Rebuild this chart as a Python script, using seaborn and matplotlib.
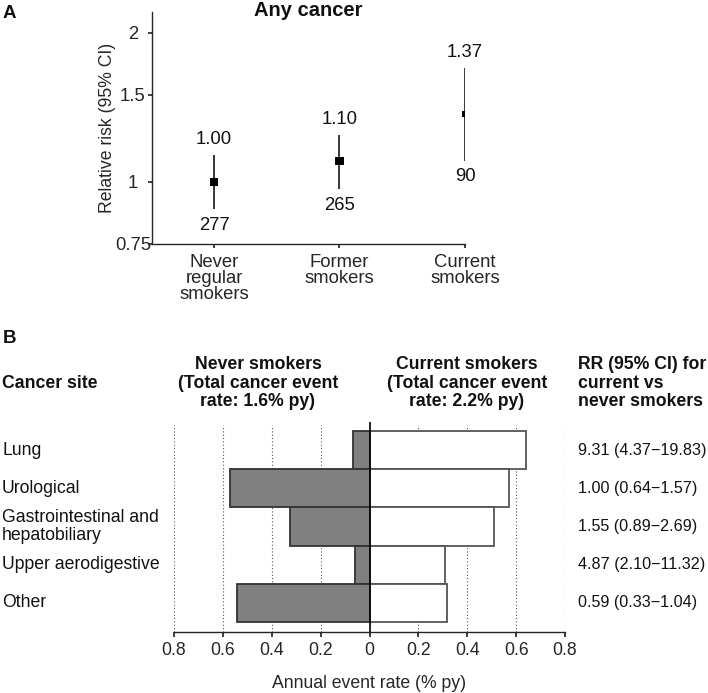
import numpy as np
import pandas as pd
import matplotlib
matplotlib.use("Agg")
import matplotlib.pyplot as plt
import matplotlib.transforms as mtransforms
from matplotlib.ticker import NullLocator
import seaborn as sns

# ---------------- Datos panel A (cualquier cancer)
grupos = ["Never\nregular\nsmokers", "Former\nsmokers", "Current\nsmokers"]
rr = [1.00, 1.10, 1.37]
ic_bajo = [0.882, 0.967, 1.104]
ic_alto = [1.134, 1.244, 1.70]
rr_txt = ["1.00", "1.10", "1.37"]
eventos = [277, 265, 90]

# ---------------- Datos panel B (por sitio)
sitios = ["Lung", "Urological", "Gastrointestinal and\nhepatobiliary",
          "Upper aerodigestive", "Other"]
tasa_nunca = [0.068, 0.572, 0.327, 0.061, 0.542]
tasa_actual = [0.641, 0.572, 0.510, 0.308, 0.319]
rr_sitio = ["9.31 (4.37\u221219.83)", "1.00 (0.64\u22121.57)", "1.55 (0.89\u22122.69)",
            "4.87 (2.10\u221211.32)", "0.59 (0.33\u22121.04)"]
ticks_b = [-0.8, -0.6, -0.4, -0.2, 0, 0.2, 0.4, 0.6, 0.8]
ticks_b_txt = ["0.8", "0.6", "0.4", "0.2", "0", "0.2", "0.4", "0.6", "0.8"]

# estilo
sns.set_theme(style="ticks")
plt.rcParams["font.family"] = ["Liberation Sans", "DejaVu Sans"]
plt.rcParams["axes.linewidth"] = 1.0
plt.rcParams["text.color"] = "#111111"
fuente_a = ["Liberation Sans Narrow", "Liberation Sans", "DejaVu Sans"]
tam_marcador = [34, 34, 20]
fs_a = 13.3
fs_b = 12.7

W, H = 708, 693
fig = plt.figure(figsize=(W / 100, H / 100), dpi=100)

# ----------------------------------------------------------
# PANEL A
axA = fig.add_axes([152 / W, 1 - 244 / H, 313 / W, 232 / H])
pos = np.arange(len(grupos))
axA.vlines(pos, ic_bajo, ic_alto, color="black", lw=1.1)
df_a = pd.DataFrame({"x": pos, "rr": rr, "grupo": grupos})
sns.scatterplot(data=df_a, x="x", y="rr", size="grupo",
                sizes=dict(zip(grupos, tam_marcador)), marker="s",
                color="black", edgecolor="black", linewidth=0,
                legend=False, ax=axA, zorder=3)

for i in range(len(grupos)):
    axA.annotate(rr_txt[i], (pos[i], ic_alto[i]), xytext=(0, 11),
                 textcoords="offset points", ha="center", va="center",
                 fontsize=fs_a, family=fuente_a)
    axA.annotate(str(eventos[i]), (pos[i], ic_bajo[i]), xytext=(0, -11.5),
                 textcoords="offset points", ha="center", va="center",
                 fontsize=fs_a, family=fuente_a)

axA.set_yscale("log")
axA.set_ylim(0.75, 2.2)
axA.set_xlim(-0.494, 2.0)
axA.set_yticks([0.75, 1, 1.5, 2])
axA.set_yticklabels(["0.75", "1", "1.5", "2"], family=fuente_a)
axA.yaxis.set_minor_locator(NullLocator())
axA.set_xticks(pos)
axA.set_xticklabels(grupos, family=fuente_a, linespacing=0.95)
axA.tick_params(axis="y", length=3, pad=10.7, labelsize=fs_a)
axA.tick_params(axis="x", length=3, pad=4, labelsize=fs_a)
for lbl in axA.get_yticklabels():
    lbl.set_ha("center")
axA.set_xlabel("")
axA.set_ylabel("Relative risk (95% CI)", fontsize=12.7, labelpad=-1)
sns.despine(ax=axA)

fig.text(308 / W, 1 - 10 / H, "Any cancer", ha="center", va="center",
         fontsize=14.5, fontweight="bold", family=fuente_a)
fig.text(3 / W, 1 - 14 / H, "A", ha="left", va="center", fontsize=13.5, fontweight="bold")

# ----------------------------------------------------------
# PANEL B
axB = fig.add_axes([174 / W, 1 - 632 / H, 391 / W, 210 / H])
df_b = pd.DataFrame({"sitio": sitios,
                     "nunca": -np.array(tasa_nunca),
                     "actual": tasa_actual})

for v in ticks_b:
    if v != 0:
        axB.axvline(v, ymax=0.985, ls=(0, (1, 2)), color="#555555", lw=0.8, zorder=0)

sns.barplot(data=df_b, x="nunca", y="sitio", orient="h", width=1.0,
            color="#808080", saturation=1, edgecolor="#333333", linewidth=1.3,
            errorbar=None, ax=axB, zorder=2)
sns.barplot(data=df_b, x="actual", y="sitio", orient="h", width=1.0,
            color="white", saturation=1, edgecolor="#555555", linewidth=1.3,
            errorbar=None, ax=axB, zorder=2)
axB.axvline(0, color="black", lw=1.2, zorder=4)

axB.set_xlim(-0.8, 0.8)
axB.set_ylim(4.764, -0.733)
axB.set_yticks([])
axB.set_ylabel("")
axB.set_xticks(ticks_b)
axB.set_xticklabels(ticks_b_txt)
axB.tick_params(axis="x", length=3.5, pad=4, labelsize=fs_b)
axB.set_xlabel("Annual event rate (% py)", fontsize=fs_b, labelpad=11)
for lado in ["left", "top", "right"]:
    axB.spines[lado].set_visible(False)

trans = mtransforms.blended_transform_factory(fig.transFigure, axB.transData)
for i in range(len(sitios)):
    axB.text(2 / W, i, sitios[i], transform=trans, ha="left", va="center",
             fontsize=fs_b, linespacing=1.05)
    axB.text(578 / W, i, rr_sitio[i], transform=trans, ha="left", va="center",
             fontsize=11.6)

fig.text(3 / W, 1 - 338 / H, "B", ha="left", va="center", fontsize=13.5, fontweight="bold")
fig.text(2 / W, 1 - 383 / H, "Cancer site", ha="left", va="center",
         fontsize=fs_b, fontweight="bold")
fig.text(258 / W, 1 - 383 / H, "Never smokers\n(Total cancer event\nrate: 1.6% py)",
         ha="center", va="center", ma="center", fontsize=fs_b, fontweight="bold",
         linespacing=1.1)
fig.text(467 / W, 1 - 383 / H, "Current smokers\n(Total cancer event\nrate: 2.2% py)",
         ha="center", va="center", ma="center", fontsize=fs_b, fontweight="bold",
         linespacing=1.1)
fig.text(578 / W, 1 - 383 / H, "RR (95% CI) for\ncurrent vs\nnever smokers",
         ha="left", va="center", ma="left", fontsize=fs_b, fontweight="bold",
         linespacing=1.1)

fig.savefig("out.png", dpi=100)
